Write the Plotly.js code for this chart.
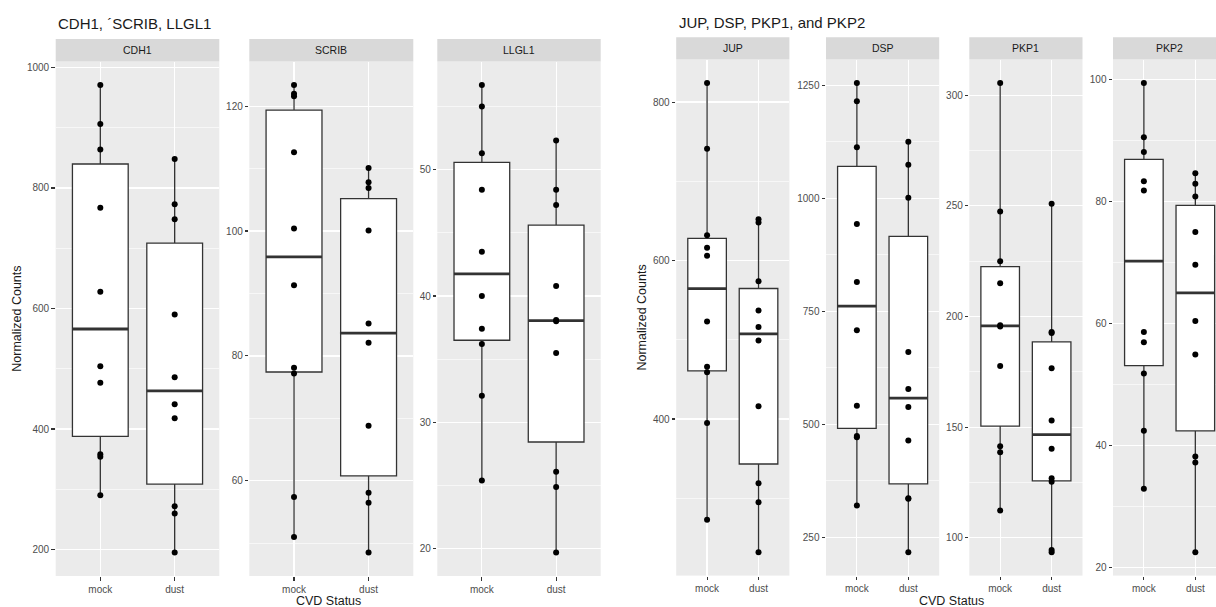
<!DOCTYPE html>
<html><head><meta charset="utf-8">
<script src="https://cdn.plot.ly/plotly-3.0.1.min.js"></script>
<style>html,body{margin:0;padding:0;background:#fff}#chart{width:1216px;height:607px}</style>
</head><body><div id="chart"></div>
<script>
// ---------- data ----------
const groups = ['mock', 'dust'];
const genes = ['CDH1', 'SCRIB', 'LLGL1', 'JUP', 'DSP', 'PKP1', 'PKP2'];
const cdh1Mock = [971, 906, 864, 767, 628, 504, 477, 358, 354, 290];
const cdh1Dust = [848, 773, 748, 590, 486, 441, 418, 272, 260, 195];
const scribMock = [123.4, 122.0, 121.6, 112.6, 100.4, 91.3, 78.1, 77.2, 57.4, 51.0];
const scribDust = [110.1, 107.8, 106.9, 100.1, 85.2, 82.1, 68.8, 58.1, 56.5, 48.5];
const llgl1Mock = [56.7, 55.0, 51.3, 48.4, 43.5, 40.0, 37.4, 36.2, 32.1, 25.4];
const llgl1Dust = [52.3, 48.4, 47.2, 40.8, 38.1, 38.0, 35.5, 26.1, 24.9, 19.7];
const jupMock = [824, 741, 632, 616, 606, 523, 466, 459, 395, 273];
const jupDust = [652, 648, 574, 537, 516, 499, 416, 319, 295, 232];
const dspMock = [1255, 1215, 1113, 943, 815, 708, 541, 474, 471, 320];
const dspDust = [1125, 1074, 1001, 660, 578, 538, 464, 336, 335, 217];
const pkp1Mock = [305.5, 247.5, 225, 215, 196, 195.5, 177.6, 141.4, 138.6, 112.3];
const pkp1Dust = [251, 193, 192.5, 176.6, 153, 140.2, 126.9, 125.3, 94.5, 93.5];
const pkp2Mock = [99.4, 90.5, 88.1, 83.3, 81.8, 58.6, 56.9, 51.8, 42.4, 32.9];
const pkp2Dust = [84.6, 82.9, 80.8, 75.0, 69.6, 60.4, 54.9, 38.2, 37.2, 22.5];
const yTickSteps = [200, 20, 10, 200, 250, 50, 20];
const groupTitles = ['CDH1, \u00B4SCRIB, LLGL1', 'JUP, DSP, PKP1, and PKP2'];
const xTitle = 'CVD Status';
const yTitle = 'Normalized Counts';

const seriesByGene = [
  [cdh1Mock, cdh1Dust], [scribMock, scribDust], [llgl1Mock, llgl1Dust],
  [jupMock, jupDust], [dspMock, dspDust], [pkp1Mock, pkp1Dust], [pkp2Mock, pkp2Dust]
];

// ---------- layout geometry (pixels) ----------
const W = 1216, H = 607;
const panels = [
  {l: 55.7, r: 219.3, t: 61.5, b: 576, st: 39},
  {l: 249.3, r: 413.3, t: 61.5, b: 576, st: 39},
  {l: 437.3, r: 600.7, t: 61.5, b: 576, st: 39},
  {l: 676.2, r: 789.4, t: 59.6, b: 575.6, st: 37.3},
  {l: 826.0, r: 939.2, t: 59.6, b: 575.6, st: 37.3},
  {l: 969.3, r: 1082.5, t: 59.6, b: 575.6, st: 37.3},
  {l: 1113.0, r: 1226.2, t: 59.6, b: 575.6, st: 37.3}
];

function quant7(arr, p) {
  const s = [...arr].sort((a, b) => a - b);
  const h = (s.length - 1) * p, lo = Math.floor(h);
  const hi = Math.min(lo + 1, s.length - 1);
  return s[lo] + (h - lo) * (s[hi] - s[lo]);
}
function stats(arr) {
  const q1 = quant7(arr, 0.25), med = quant7(arr, 0.5), q3 = quant7(arr, 0.75);
  const iqr = q3 - q1;
  const up = Math.max(...arr.filter(v => v <= q3 + 1.5 * iqr));
  const lo = Math.min(...arr.filter(v => v >= q1 - 1.5 * iqr));
  return {q1, med, q3, up, lo};
}

const font = 'Liberation Sans, Arial, Helvetica, sans-serif';
const traces = [];
const layout = {
  width: W, height: H,
  margin: {l: 0, r: 0, t: 0, b: 0},
  paper_bgcolor: '#FFFFFF', plot_bgcolor: '#EBEBEB',
  showlegend: false,
  font: {family: font, color: '#4D4D4D', size: 10},
  shapes: [], annotations: []
};
const boxHalf = 0.375;

genes.forEach((g, i) => {
  const sfx = i === 0 ? '' : String(i + 1);
  const xa = 'x' + sfx, ya = 'y' + sfx;
  const p = panels[i];
  const [mk, ds] = seriesByGene[i];
  const st = [stats(mk), stats(ds)];
  const xs = [1, 2];

  traces.push({
    type: 'box', xaxis: xa, yaxis: ya, x: xs,
    q1: st.map(s => s.q1), median: st.map(s => s.med), q3: st.map(s => s.q3),
    lowerfence: st.map(s => s.lo), upperfence: st.map(s => s.up),
    width: 0.75, whiskerwidth: 0, boxpoints: false,
    fillcolor: '#FFFFFF', line: {color: '#333333', width: 1.3},
    hoverinfo: 'skip'
  });
  traces.push({
    type: 'scatter', mode: 'lines', xaxis: xa, yaxis: ya,
    x: [1 - boxHalf, 1 + boxHalf, null, 2 - boxHalf, 2 + boxHalf],
    y: [st[0].med, st[0].med, null, st[1].med, st[1].med],
    line: {color: '#333333', width: 2.8}, hoverinfo: 'skip'
  });
  traces.push({
    type: 'scatter', mode: 'markers', xaxis: xa, yaxis: ya,
    x: mk.map(() => 1).concat(ds.map(() => 2)),
    y: mk.concat(ds),
    marker: {color: '#000000', size: 6}, hoverinfo: 'skip'
  });

  const all = mk.concat(ds);
  const mn = Math.min(...all), mx = Math.max(...all), pad = 0.05 * (mx - mn);
  const rRight = Math.min(p.r, W);
  const xr1 = 0.4 + 2.2 * (rRight - p.l) / (p.r - p.l);

  layout['xaxis' + sfx] = {
    domain: [p.l / W, rRight / W], range: [0.4, xr1], anchor: ya,
    tickmode: 'array', tickvals: xs, ticktext: groups,
    showgrid: true, gridcolor: '#FFFFFF', gridwidth: 1.2,
    zeroline: false, showline: false,
    ticks: 'outside', ticklen: 3.5, tickwidth: 1.1, tickcolor: '#333333',
    tickfont: {family: font, size: 10, color: '#4D4D4D'}, fixedrange: true
  };
  layout['yaxis' + sfx] = {
    domain: [1 - p.b / H, 1 - p.t / H], range: [mn - pad, mx + pad], anchor: xa,
    tickmode: 'linear', tick0: 0, dtick: yTickSteps[i],
    minor: {dtick: yTickSteps[i] / 2, tick0: 0, showgrid: true, gridcolor: '#FFFFFF', gridwidth: 0.6},
    showgrid: true, gridcolor: '#FFFFFF', gridwidth: 1.2,
    zeroline: false, showline: false,
    ticks: 'outside', ticklen: 3.5, tickwidth: 1.1, tickcolor: '#333333',
    tickfont: {family: font, size: 10, color: '#4D4D4D'}, fixedrange: true
  };

  layout.shapes.push({
    type: 'rect', xref: 'paper', yref: 'paper', layer: 'below',
    x0: p.l / W, x1: rRight / W, y0: 1 - p.t / H, y1: 1 - p.st / H,
    fillcolor: '#D9D9D9', line: {width: 0}
  });
  layout.annotations.push({
    xref: 'paper', yref: 'paper', x: (p.l + p.r) / 2 / W, y: 1 - (p.st + p.t) / 2 / H,
    xanchor: 'center', yanchor: 'middle', showarrow: false,
    text: g, font: {family: font, size: 10.5, color: '#1A1A1A'}
  });
});

// group titles and axis titles
const groupSpans = [[panels[0].l, panels[2].r, panels[0].t, panels[0].b, 17, 23],
                    [panels[3].l, panels[6].r, panels[3].t, panels[3].b, 642, 22.5]];
groupSpans.forEach(([l, r, t, b, yx, ty], k) => {
  layout.annotations.push({
    xref: 'paper', yref: 'paper', x: (l + 0.5) / W, y: 1 - ty / H,
    xanchor: 'left', yanchor: 'middle', showarrow: false,
    text: groupTitles[k], font: {family: font, size: 15, color: '#1A1A1A'}
  });
  layout.annotations.push({
    xref: 'paper', yref: 'paper', x: yx / W, y: 1 - (t + b) / 2 / H,
    xanchor: 'center', yanchor: 'middle', showarrow: false, textangle: -90,
    text: yTitle, font: {family: font, size: 12.5, color: '#1A1A1A'}
  });
  layout.annotations.push({
    xref: 'paper', yref: 'paper', x: (l + r) / 2 / W, y: 1 - 600.5 / H,
    xanchor: 'center', yanchor: 'middle', showarrow: false,
    text: xTitle, font: {family: font, size: 12.5, color: '#1A1A1A'}
  });
});

Plotly.newPlot('chart', traces, layout, {displayModeBar: false, staticPlot: true});
</script>
</body></html>
